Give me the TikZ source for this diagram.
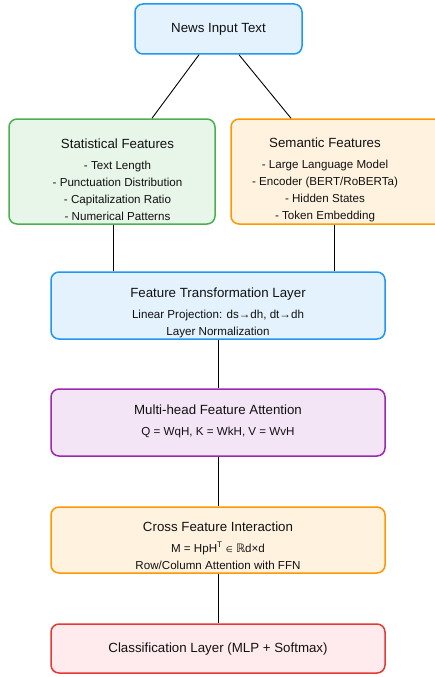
\documentclass[tikz,border=0pt]{standalone}
\usepackage{fontspec}
\setmainfont{Liberation Sans}
\newfontfamily\dejavu{DejaVu Sans}
\definecolor{bluebd}{HTML}{2196F3}
\definecolor{bluefl}{HTML}{E3F2FD}
\definecolor{greenbd}{HTML}{4CAF50}
\definecolor{greenfl}{HTML}{E8F5E9}
\definecolor{orangebd}{HTML}{FF9800}
\definecolor{orangefl}{HTML}{FFF3E0}
\definecolor{purplebd}{HTML}{9C27B0}
\definecolor{purplefl}{HTML}{F3E5F5}
\definecolor{redbd}{HTML}{E53935}
\definecolor{redfl}{HTML}{FFEBEE}
\definecolor{txtc}{HTML}{111111}
\newcommand{\ttl}[1]{{\fontsize{13.3}{17}\selectfont #1}\\[4pt]}
\begin{document}
\begin{tikzpicture}[x=1pt,y=-1pt,
  box/.style={draw, line width=1.5pt, rounded corners=8pt, inner sep=0pt},
  txt/.style={text=txtc, align=center, font=\fontsize{11.6}{17}\selectfont, inner sep=0pt},
  conn/.style={draw=black, line width=0.9pt}]
\useasboundingbox (0,0) rectangle (434,677);
\fill[white] (0,0) rectangle (434,677);
% boxes
\node[box, draw=bluebd, fill=bluefl, minimum width=167pt, minimum height=50pt] (news) at (218.5,29) {};
\node[box, draw=greenbd, fill=greenfl, minimum width=206pt, minimum height=105pt] (stat) at (112,171.5) {};
\node[box, draw=orangebd, fill=orangefl, minimum width=214pt, minimum height=105pt] (sem) at (338,171.5) {};
\node[box, draw=bluebd, fill=bluefl, minimum width=334pt, minimum height=67pt] (trans) at (218,305.5) {};
\node[box, draw=purplebd, fill=purplefl, minimum width=334pt, minimum height=67pt] (multi) at (218,422.5) {};
\node[box, draw=orangebd, fill=orangefl, minimum width=334pt, minimum height=66pt] (cross) at (218,540) {};
\node[box, draw=redbd, fill=redfl, minimum width=334pt, minimum height=49pt] (cls) at (218,648.5) {};
% texts
\node[txt, font=\fontsize{13.3}{17}\selectfont] (newst) at (218.5,29.3) {News Input Text};
\node[txt, anchor=base] (statt) at (117.5,220) {\ttl{Statistical Features}- Text Length\\- Punctuation Distribution\\- Capitalization Ratio\\- Numerical Patterns};
\node[txt, anchor=base] (semt) at (325,219) {\ttl{Semantic Features}- Large Language Model\\- Encoder (BERT/RoBERTa)\\- Hidden States\\- Token Embedding};
\node[txt, anchor=base] (transt) at (218,335) {\ttl{Feature Transformation Layer}Linear Projection: ds→dh, dt→dh\\Layer Normalization};
\node[txt, anchor=base] (multit) at (218,435.7) {\ttl{Multi-head Feature Attention}Q = WqH, K = WkH, V = WvH};
\node[txt, anchor=base] (crosst) at (218,569) {\ttl{Cross Feature Interaction}M = HpH\textsuperscript{T} {\dejavu\fontsize{8}{10}\selectfont ∈} {\dejavu ℝ}d×d\\Row/Column Attention with FFN};
\node[txt, font=\fontsize{13.3}{17}\selectfont] (clst) at (218,649) {Classification Layer (MLP + Softmax)};
% connectors
\draw[conn] ([xshift=-19.5pt]news.south) -- ([xshift=40pt]stat.north);
\draw[conn] ([xshift=20.5pt]news.south) -- ([xshift=-47pt]sem.north);
\draw[conn] ([xshift=1pt]stat.south) -- ([xshift=1pt]stat.south |- trans.north);
\draw[conn] ([xshift=-4pt]sem.south) -- ([xshift=-4pt]sem.south |- trans.north);
\draw[conn] (trans) -- (multi);
\draw[conn] (multi) -- (cross);
\draw[conn] (cross) -- (cls);
\end{tikzpicture}
\end{document}
